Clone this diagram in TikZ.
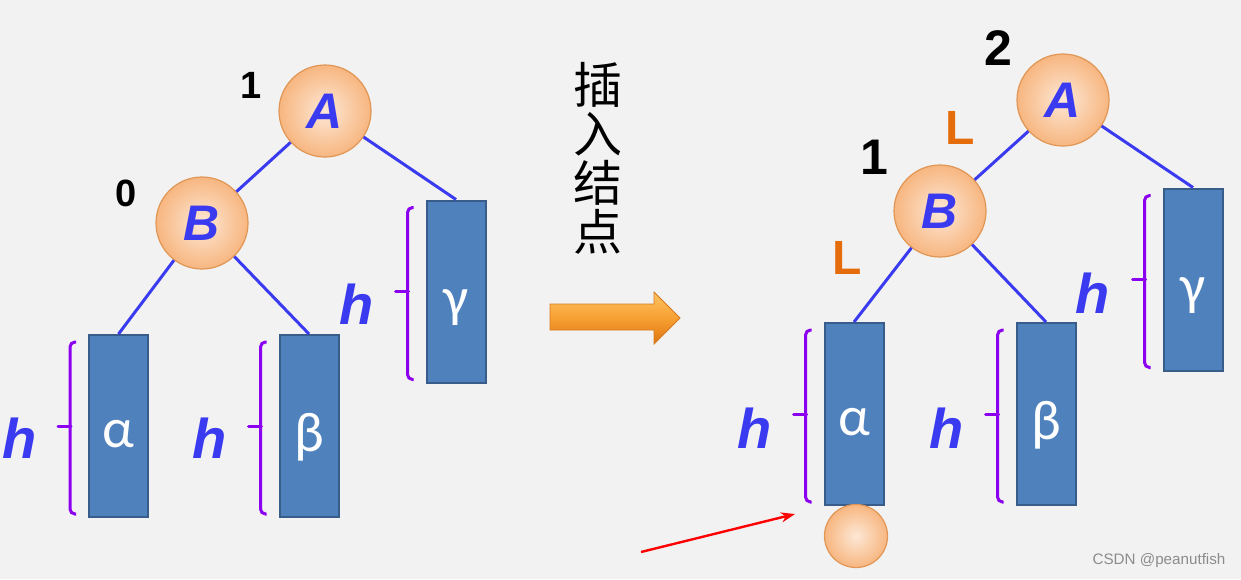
\documentclass[tikz,border=0pt]{standalone}
\usepackage{fontspec}
\setsansfont{Liberation Sans}
\newfontfamily\grfont{Carlito}
\newfontfamily\cjkfont{Noto Sans CJK SC}
\usetikzlibrary{arrows.meta}

\definecolor{bgcol}{RGB}{242,242,242}
\definecolor{linecol}{RGB}{58,58,240}
\definecolor{boxcol}{RGB}{79,129,189}
\definecolor{boxline}{RGB}{56,93,138}
\definecolor{brcol}{RGB}{140,0,240}
\definecolor{lcol}{RGB}{228,108,10}
\definecolor{ballin}{RGB}{253,232,214}
\definecolor{ballout}{RGB}{247,182,128}
\definecolor{ballline}{RGB}{225,150,85}

% bracket with a middle tick, left of a subtree box
\newcommand\hbrace[1]{%
  \draw[brc] ([xshift=-6pt,yshift=-4pt]#1.north west) -- ([xshift=-9pt,yshift=-4pt]#1.north west)
    -- ([xshift=-9pt,yshift=2pt]#1.south west) -- ([xshift=-6pt,yshift=2pt]#1.south west);
  \draw[brc,line cap=round] ([xshift=-8.5pt]#1.west) -- ([xshift=-15pt]#1.west);}
% greek letter set a little low in its box
\newcommand\gk[2]{\raisebox{-#2}[\height][\depth]{#1}}

\begin{document}
\begin{tikzpicture}[x=0.5pt,y=-0.5pt,
  ball/.style={circle,draw=ballline,line width=0.6pt,inner color=ballin,outer color=ballout,
    minimum size=46pt,inner sep=0pt,text=linecol,font=\sffamily\bfseries\itshape\fontsize{25}{25}\selectfont},
  subtree/.style={rectangle,draw=boxline,line width=1pt,fill=boxcol,minimum width=29.5pt,
    minimum height=91pt,inner sep=0pt,text=white,font=\grfont\fontsize{28}{28}\selectfont},
  hlab/.style={text=linecol,inner sep=0pt,font=\sffamily\bfseries\itshape\fontsize{28}{28}\selectfont},
  bal/.style={inner sep=0pt,font=\sffamily\bfseries\fontsize{19}{19}\selectfont},
  balbig/.style={inner sep=0pt,font=\sffamily\bfseries\fontsize{25}{25}\selectfont},
  dir/.style={text=lcol,inner sep=0pt,font=\sffamily\bfseries\fontsize{24}{24}\selectfont},
  treeline/.style={linecol,line width=1.5pt},
  brc/.style={brcol,line width=1.5pt,rounded corners=2.5pt}]
\fill[bgcol] (0,0) rectangle (1241,579);
\useasboundingbox (0,0) rectangle (1241,579);

% before insertion
\node[ball] (A1) at (325,111) {A};
\node[ball] (B1) at (202,223) {B};
\node[subtree] (al1) at (118.5,426) {\gk{α}{4pt}};
\node[subtree] (be1) at (309,426) {\gk{β}{5.5pt}};
\node[subtree] (ga1) at (456,291.5) {\gk{γ}{8pt}};
\draw[treeline] (A1) -- (B1);
\draw[treeline] (A1) -- (ga1.north);
\draw[treeline] (B1) -- (al1.north);
\draw[treeline] (B1) -- (be1.north);
\node[bal] (bf1A) at (251,85) {1};
\node[bal] (bf1B) at (126,193) {0};
\hbrace{al1} \hbrace{be1} \hbrace{ga1}
\node[hlab] (h1a) at (20,438) {h};
\node[hlab] (h1b) at (210,438) {h};
\node[hlab] (h1g) at (357,304) {h};

% middle
\node[align=center,inner sep=0pt,font=\cjkfont\fontsize{24.5}{24.5}\selectfont] (ins) at (598,158) {插\\入\\结\\点};
\shade[top color={rgb,255:red,252;green,196;blue,100},bottom color={rgb,255:red,222;green,118;blue,18},
  middle color={rgb,255:red,248;green,160;blue,50},draw={rgb,255:red,215;green,120;blue,30},line width=0.4pt]
  (550,304) -- (654,304) -- (654,292) -- (680,318) -- (654,344) -- (654,330) -- (550,330) -- cycle;

% after insertion
\node[ball] (A2) at (1063,100) {A};
\node[ball] (B2) at (940,211) {B};
\node[subtree] (al2) at (854,414) {\gk{α}{4pt}};
\node[subtree] (be2) at (1046,414) {\gk{β}{5.5pt}};
\node[subtree] (ga2) at (1193,279.5) {\gk{γ}{8pt}};
\draw[treeline] (A2) -- (B2);
\draw[treeline] (A2) -- (ga2.north);
\draw[treeline] (B2) -- (al2.north);
\draw[treeline] (B2) -- (be2.north);
\node[balbig] (bf2A) at (998,48) {2};
\node[balbig] (bf2B) at (874,157) {1};
\node[dir] (LA) at (960,128) {L};
\node[dir] (LB) at (847,258) {L};
\hbrace{al2} \hbrace{be2} \hbrace{ga2}
\node[hlab] (h2a) at (755,428) {h};
\node[hlab] (h2b) at (947,428) {h};
\node[hlab] (h2g) at (1093,293) {h};
\node[ball,minimum size=31.5pt] (new) at (856,536) {};
\coordinate (rs) at (641,552);
\coordinate (re) at (795,514);
\draw[red,line width=1.2pt,-{Stealth[length=7pt,width=5pt]}] (rs) -- (re);

\node[text={rgb,255:red,140;green,140;blue,140},font=\sffamily\fontsize{7.6}{8}\selectfont] (wm) at (1159,561) {CSDN @peanutfish};
\end{tikzpicture}
\end{document}
